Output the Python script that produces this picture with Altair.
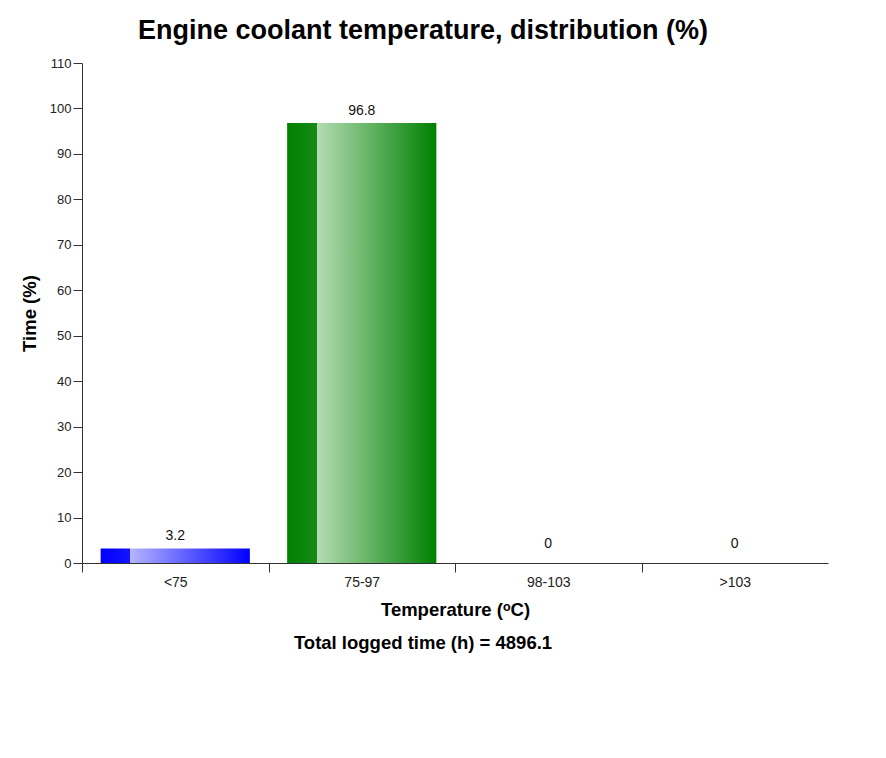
import altair as alt
import pandas as pd

# ---- data ----
categories = ["<75", "75-97", "98-103", ">103"]
values = [3.2, 96.8, 0, 0]
total_hours = 4896.1

# colours of each bar: (dark edge, dark edge end, light start)
dark_colors = ["#0000ff", "#008000", "#ff0000", "#ff8c00"]
dark_end_colors = ["#1414ff", "#168a16", "#ff1414", "#ff9614"]
light_colors = ["#b4b4ff", "#b4dcb4", "#ffb4b4", "#ffdcb4"]

y_ticks = list(range(0, 111, 10))

df = pd.DataFrame({"cat": categories, "val": values})

font = "Liberation Sans"
PLOT_W = 746
STEP = PLOT_W / len(categories)

x_enc = alt.X(
    "cat:N",
    sort=categories,
    scale=alt.Scale(paddingInner=0, paddingOuter=0),
    axis=alt.Axis(
        title="Temperature (ᵒC)",
        labelAngle=0,
        tickOffset=-STEP / 2,
        labelOffset=STEP / 2,
        tickSize=9,
        labelPadding=3,
        labelFontSize=14,
        titlePadding=11,
        titleFontSize=18.5,
        titleFontWeight="bold",
    ),
)
y_scale = alt.Scale(domain=[0, 110], nice=False)
y_axis = alt.Axis(
    title="Time (%)",
    values=y_ticks,
    tickSize=9,
    labelPadding=2,
    labelFontSize=13,
    titlePadding=10,
    titleFontSize=18.5,
    titleFontWeight="bold",
    grid=False,
)
y_enc = alt.Y("val:Q", scale=y_scale, axis=y_axis)

layers = []
for c, d, de, l in zip(categories, dark_colors, dark_end_colors, light_colors):
    grad = alt.Gradient(
        gradient="linear",
        x1=0, x2=1, y1=0, y2=0,
        stops=[
            alt.GradientStop(color=d, offset=0),
            alt.GradientStop(color=de, offset=0.199),
            alt.GradientStop(color=l, offset=0.2),
            alt.GradientStop(color=d, offset=1),
        ],
    )
    layers.append(
        alt.Chart(df)
        .transform_filter(alt.datum.cat == c)
        .mark_bar(width=alt.RelativeBandSize(0.8), color=grad)
        .encode(x=x_enc, y=y_enc)
    )

labels = (
    alt.Chart(df)
    .transform_calculate(ly="max(datum.val, 1.5)")
    .mark_text(dy=-8, baseline="alphabetic", fontSize=14, font=font, color="#111")
    .encode(x=x_enc, y=alt.Y("ly:Q", scale=y_scale, axis=y_axis), text=alt.Text("val:Q"))
)

footer = (
    alt.Chart(pd.DataFrame({"t": [f"Total logged time (h) = {total_hours}"]}))
    .mark_text(fontSize=18.5, fontWeight="bold", font=font, color="#000", baseline="middle")
    .encode(text="t:N", x=alt.value(341), y=alt.value(580))
)

chart = (
    alt.layer(*layers, labels, footer)
    .properties(
        width=PLOT_W,
        height=500,
        title=alt.Title(
            "Engine coolant temperature, distribution (%)",
            fontSize=27,
            font=font,
            fontWeight="bold",
            color="#000",
            dx=-32,
            offset=12,
        ),
        padding={"left": 12, "top": 9, "right": 5, "bottom": 5},
    )
    .configure_view(stroke=None)
    .configure_axis(
        labelFont=font,
        titleFont=font,
        labelColor="#222",
        titleColor="#000",
        domainColor="#333",
        tickColor="#333",
    )
)

chart.save("out.html", embed_options={"renderer": "svg", "actions": False})
